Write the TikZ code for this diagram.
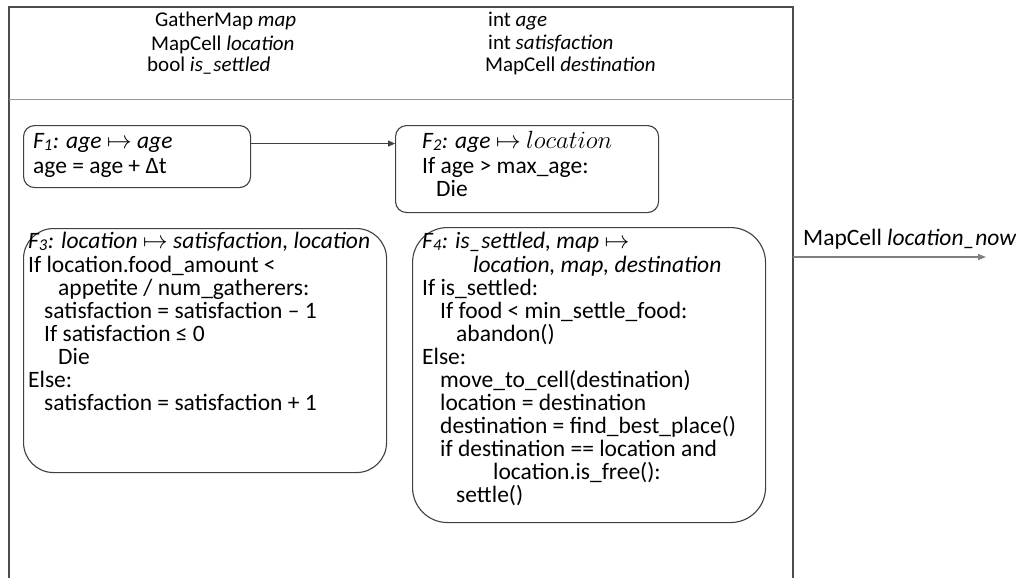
\documentclass[tikz,border=0pt]{standalone}
\usepackage{fontspec}
\setmainfont{Carlito}
\usetikzlibrary{arrows.meta}
\newcommand{\fsub}[1]{\smash{\raisebox{1.5pt}{\textsubscript{#1}}}}
\begin{document}
\begin{tikzpicture}[x=1pt,y=-1pt,
  lbl/.style={anchor=base west, inner sep=0pt, font=\fontsize{23.5}{27}\selectfont},
  hlbl/.style={anchor=base west, inner sep=0pt, font=\fontsize{21}{25}\selectfont},
  fbox/.style={draw=black!75, line width=1.1pt, anchor=north west, inner sep=0pt},
  frame/.style={draw=black!70, line width=1.6pt},
  divider/.style={draw=black!40, line width=1pt},
  arr/.style={draw=black!75, line width=0.9pt, -{Triangle[length=7pt,width=6pt]}},
  outarr/.style={draw=black!50, line width=1.3pt, -{Triangle[length=8pt,width=6pt]}}]
\useasboundingbox (0,0) rectangle (1016,578);
\fill[white] (0,0) rectangle (1016,578);
% frame
\coordinate (fbl) at (9,578);
\coordinate (ftl) at (9,7);
\coordinate (ftr) at (793,7);
\coordinate (fbr) at (793,578);
\draw[frame] (fbl) -- (ftl) -- (ftr) -- (fbr);
\coordinate (dl) at (9,99);
\coordinate (dr) at (793,99);
\draw[divider] (dl) -- (dr);
% header
\node[hlbl] (h1) at (155,27) {GatherMap \textit{map}};
\node[hlbl] (h2) at (151,50) {MapCell \textit{location}};
\node[hlbl] (h3) at (147,71) {bool \textit{is\_settled}};
\node[hlbl] (h4) at (488,27) {int \textit{age}};
\node[hlbl] (h5) at (488,49) {int \textit{satisfaction}};
\node[hlbl] (h6) at (485,71) {MapCell \textit{destination}};
% boxes
\node[fbox, rounded corners=11pt, minimum width=227pt, minimum height=62pt] (f1) at (23,125) {};
\node[fbox, rounded corners=11pt, minimum width=263pt, minimum height=87pt] (f2) at (395,125) {};
\node[fbox, rounded corners=30pt, minimum width=363pt, minimum height=244pt] (f3) at (23,228) {};
\node[fbox, rounded corners=35pt, minimum width=353pt, minimum height=295pt] (f4) at (412,227) {};
\draw[arr] ([yshift=13pt]f1.east) -- ([yshift=13pt]f1.east -| f2.west);
% F1
\node[lbl] (f1a) at (33,148) {\textit{F\fsub{1}: age $\mapsto$ age}};
\node[lbl] (f1b) at (33,173) {age = age + Δt};
% F2
\node[lbl] (f2a) at (422,148) {\textit{F\fsub{2}: age $\mapsto$} $location$};
\node[lbl] (f2b) at (422,173) {If age > max\_age:};
\node[lbl] (f2c) at (436,196) {Die};
% F3
\node[lbl] (f3a) at (28,248) {\textit{F\fsub{3}: location $\mapsto$ satisfaction, location}};
\node[lbl] (f3b) at (28,272) {If location.food\_amount <};
\node[lbl] (f3c) at (58,295) {appetite / num\_gatherers:};
\node[lbl] (f3d) at (44,318) {satisfaction = satisfaction – 1};
\node[lbl] (f3e) at (44,341) {If satisfaction ≤ 0};
\node[lbl] (f3f) at (58,364) {Die};
\node[lbl] (f3g) at (28,387) {Else:};
\node[lbl] (f3h) at (44,410) {satisfaction = satisfaction + 1};
% F4
\node[lbl] (f4a) at (422,248) {\textit{F\fsub{4}: is\_settled, map $\mapsto$}};
\node[lbl] (f4b) at (473,272) {\textit{location, map, destination}};
\node[lbl] (f4c) at (422,295) {If is\_settled:};
\node[lbl] (f4d) at (440,318) {If food < min\_settle\_food:};
\node[lbl] (f4e) at (456,341) {abandon()};
\node[lbl] (f4f) at (422,364) {Else:};
\node[lbl] (f4g) at (440,387) {move\_to\_cell(destination)};
\node[lbl] (f4h) at (440,410) {location = destination};
\node[lbl] (f4i) at (440,433) {destination = find\_best\_place()};
\node[lbl] (f4j) at (440,456) {if destination == location and};
\node[lbl] (f4k) at (493,479) {location.is\_free():};
\node[lbl] (f4l) at (456,502) {settle()};
% output
\coordinate (outs) at (793,257);
\coordinate (oute) at (986,257);
\draw[outarr] (outs) -- (oute);
\node[lbl] (outl) at (803,245) {MapCell \textit{location\_now}};
\end{tikzpicture}
\end{document}
